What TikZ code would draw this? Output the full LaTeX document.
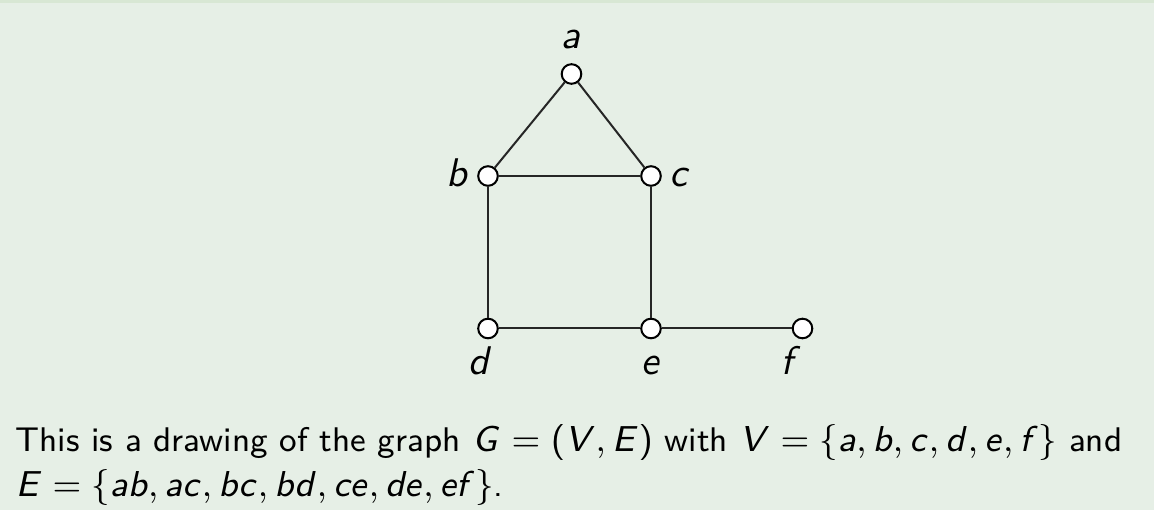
\documentclass[tikz,border=0pt]{standalone}
\renewcommand\familydefault{\sfdefault}
\DeclareSymbolFont{sfitalic}{OT1}{cmss}{m}{sl}
\DeclareSymbolFont{sfupright}{OT1}{cmss}{m}{n}
\DeclareMathSymbol{a}{\mathalpha}{sfitalic}{`a}
\DeclareMathSymbol{b}{\mathalpha}{sfitalic}{`b}
\DeclareMathSymbol{c}{\mathalpha}{sfitalic}{`c}
\DeclareMathSymbol{d}{\mathalpha}{sfitalic}{`d}
\DeclareMathSymbol{e}{\mathalpha}{sfitalic}{`e}
\DeclareMathSymbol{f}{\mathalpha}{sfitalic}{`f}
\DeclareMathSymbol{E}{\mathalpha}{sfitalic}{`E}
\DeclareMathSymbol{G}{\mathalpha}{sfitalic}{`G}
\DeclareMathSymbol{V}{\mathalpha}{sfitalic}{`V}
\DeclareMathSymbol{(}{\mathopen}{sfupright}{`(}
\DeclareMathSymbol{)}{\mathclose}{sfupright}{`)}
\newcommand\bm[1]{{\fontsize{9.1}{11}\selectfont$#1$}}
\definecolor{bgc}{RGB}{230,239,230}
\definecolor{topc}{RGB}{216,231,212}
\tikzset{
  vertex/.style={circle, draw=black, fill=white, line width=0.5pt, minimum size=4.9pt, inner sep=0pt},
  edge/.style={draw=black!85, line width=0.5pt},
  vlabel/.style={anchor=base, inner sep=0pt, font=\fontsize{9.6}{11}\selectfont},
  bodytext/.style={anchor=base west, inner sep=0pt, font=\fontsize{8.55}{11.1}\selectfont}
}
\begin{document}
\begin{tikzpicture}[x=0.25pt,y=-0.25pt]
\useasboundingbox (0,0) rectangle (1154,510);
\fill[bgc] (0,0) rectangle (1154,510);
\fill[topc] (0,0) rectangle (1154,3.5);
\node[vertex] (a) at (571.5,74) {};
\node[vertex] (b) at (488,176) {};
\node[vertex] (c) at (651,176) {};
\node[vertex] (d) at (488,328.5) {};
\node[vertex] (e) at (651,328.5) {};
\node[vertex] (f) at (802.5,328.5) {};
\draw[edge] (a) -- (b);
\draw[edge] (a) -- (c);
\draw[edge] (b) -- (c);
\draw[edge] (b) -- (d);
\draw[edge] (c) -- (e);
\draw[edge] (d) -- (e);
\draw[edge] (e) -- (f);
\node[vlabel] (la) at (571,48.3) {$a$};
\node[vlabel] (lb) at (457,186.7) {$b$};
\node[vlabel] (lc) at (680,186.7) {$c$};
\node[vlabel] (ld) at (480,374.5) {$d$};
\node[vlabel] (le) at (651,374.5) {$e$};
\node[vlabel] (lf) at (791,374.5) {$f$};
\node[bodytext] (t1) at (15,452) {This is a drawing of the graph \bm{G=(V,E)} with \bm{V=\{a,b,c,d,e,f\}} and};
\node[bodytext] (t2) at (15,496.5) {\bm{E=\{ab,ac,bc,bd,ce,de,ef\}}.};
\end{tikzpicture}
\end{document}
